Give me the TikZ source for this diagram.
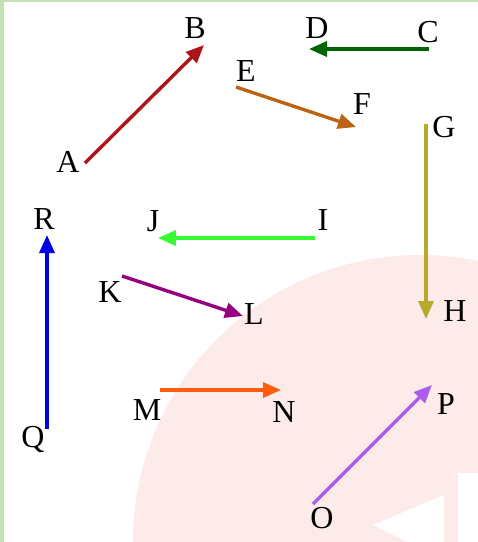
\documentclass[tikz,border=0pt]{standalone}
\usepackage{fontspec}
\setmainfont{Liberation Serif}
\usetikzlibrary{arrows.meta}
\definecolor{cAB}{RGB}{172,20,26}
\definecolor{cCD}{RGB}{0,100,0}
\definecolor{cEF}{RGB}{188,100,22}
\definecolor{cGH}{RGB}{182,170,40}
\definecolor{cIJ}{RGB}{55,250,50}
\definecolor{cKL}{RGB}{150,0,128}
\definecolor{cQR}{RGB}{0,0,228}
\definecolor{cMN}{RGB}{255,92,12}
\definecolor{cOP}{RGB}{172,92,238}
\definecolor{frame}{RGB}{197,224,180}
\definecolor{wm}{RGB}{253,235,233}
\tikzset{
  lbl/.style={inner sep=0pt, text depth=0pt, font=\fontsize{32}{34}\selectfont},
  vec/.style={line width=3.4pt, -{Triangle[length=18pt, width=15pt]}}
}
\begin{document}
\begin{tikzpicture}[x=1pt, y=-1pt]
\useasboundingbox (0,0) rectangle (478,542);
\fill[white] (0,0) rectangle (478,542);
\begin{scope}
  \clip (0,0) rectangle (478,542);
  \fill[wm] (420,542) circle (287);
  \fill[white] (373,525) -- (444,495) -- (444,560) -- cycle;
  \fill[white] (458,473) rectangle (480,545);
\end{scope}
\fill[frame] (0,0) rectangle (4,542);
\fill[frame] (0,0) rectangle (478,1.5);

% labels
\node[lbl] (A) at (68,162) {A};
\node[lbl] (B) at (195,28) {B};
\node[lbl] (C) at (428,32) {C};
\node[lbl] (D) at (317,28) {D};
\node[lbl] (E) at (246,71) {E};
\node[lbl] (F) at (362,104) {F};
\node[lbl] (G) at (444,127) {G};
\node[lbl] (H) at (455,311) {H};
\node[lbl] (I) at (323,220) {I};
\node[lbl] (J) at (153,221) {J};
\node[lbl] (K) at (110,292) {K};
\node[lbl] (L) at (254,314) {L};
\node[lbl] (R) at (44,219) {R};
\node[lbl] (Q) at (33,437) {Q};
\node[lbl] (M) at (147,410) {M};
\node[lbl] (N) at (284,412) {N};
\node[lbl] (P) at (446,404) {P};
\node[lbl] (O) at (322,518) {O};

% arrow end points
\coordinate (a0) at (85,163);  \coordinate (b0) at (204,45);
\coordinate (c0) at (429,49);  \coordinate (d0) at (309,49);
\coordinate (e0) at (236,87);  \coordinate (f0) at (356,127);
\coordinate (g0) at (426,124); \coordinate (h0) at (426,319);
\coordinate (i0) at (315,238); \coordinate (j0) at (158,238);
\coordinate (k0) at (122,276); \coordinate (l0) at (243,316);
\coordinate (q0) at (47,429);  \coordinate (r0) at (47,235);
\coordinate (m0) at (160,390); \coordinate (n0) at (281,390);
\coordinate (o0) at (313,504); \coordinate (p0) at (432,385);

\draw[vec, cAB] (a0) -- (b0);
\draw[vec, cCD] (c0) -- (d0);
\draw[vec, cEF] (e0) -- (f0);
\draw[vec, cGH] (g0) -- (h0);
\draw[vec, cIJ] (i0) -- (j0);
\draw[vec, cKL] (k0) -- (l0);
\draw[vec, cQR] (q0) -- (r0);
\draw[vec, cMN] (m0) -- (n0);
\draw[vec, cOP] (o0) -- (p0);
\end{tikzpicture}
\end{document}
